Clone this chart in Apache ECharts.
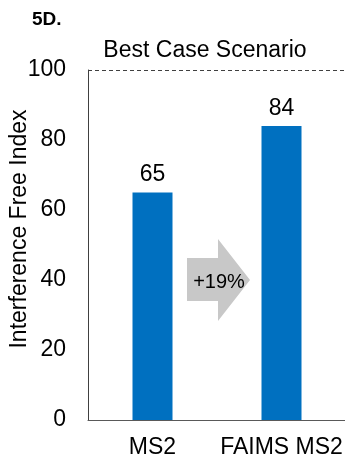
<!DOCTYPE html>
<html>
<head>
<meta charset="utf-8">
<script src="https://cdn.jsdelivr.net/npm/echarts@6/dist/echarts.min.js"></script>
<style>html,body{margin:0;padding:0;background:#fff}#c{width:345px;height:465px}</style>
</head>
<body>
<div id="c"></div>
<script>
var categories = ['MS2', 'FAIMS MS2'];
var values = [65, 84];
var yTicks = [0, 20, 40, 60, 80, 100];
var arrowLabel = '+19%';
var arrowLevel = 40;
var panelLabel = '5D.';
var chartTitle = 'Best Case Scenario';
var yName = 'Interference Free Index';

var FONT = 'Liberation Sans, Arial, sans-serif';
var chart = echarts.init(document.getElementById('c'), null, {renderer: 'canvas'});
chart.setOption({
  animation: false,
  textStyle: {fontFamily: FONT},
  title: [
    {text: panelLabel, left: 32, top: 10, padding: 0, textStyle: {fontSize: 19, fontWeight: 'bold', color: '#000', fontFamily: FONT}},
    {text: chartTitle, left: 200, textAlign: 'center', top: 34, textStyle: {fontSize: 23, fontWeight: 'normal', color: '#000', fontFamily: FONT}}
  ],
  grid: {left: 88, right: -1, top: 70, bottom: 45, outerBoundsMode: 'none', containLabel: false},
  xAxis: {
    type: 'category',
    data: categories,
    axisLine: {show: true, lineStyle: {color: '#595959', width: 1}},
    axisTick: {show: false},
    axisLabel: {fontSize: 23, color: '#000', margin: 16, interval: 0, fontFamily: FONT}
  },
  yAxis: {
    type: 'value',
    min: yTicks[0], max: yTicks[yTicks.length - 1], interval: 20,
    name: yName,
    nameLocation: 'middle',
    nameGap: 57,
    nameMoveOverlap: false,
    nameTextStyle: {fontSize: 23, color: '#000', fontFamily: FONT, padding: [0, 0, 0, 32]},
    axisLine: {show: true, lineStyle: {color: '#404040', width: 1}},
    axisTick: {show: false},
    splitLine: {show: false},
    axisLabel: {fontSize: 23, color: '#000', margin: 22, fontFamily: FONT}
  },
  series: [
    {
      type: 'bar',
      data: values,
      barWidth: 40,
      itemStyle: {color: '#0070C0'},
      label: {show: true, position: 'top', distance: 6, fontSize: 23, color: '#000', fontFamily: FONT},
      markLine: {
        silent: true,
        symbol: ['none', 'none'],
        label: {show: false},
        lineStyle: {type: [4, 3], color: '#404040', width: 1},
        data: [{yAxis: yTicks[yTicks.length - 1]}]
      }
    },
    {
      type: 'custom',
      data: [[0, arrowLevel]],
      z: 5,
      renderItem: function (params, api) {
        var p0 = api.coord([0, api.value(1)]);
        var p1 = api.coord([1, api.value(1)]);
        var cx = (p0[0] + p1[0]) / 2;
        var cy = p0[1];
        var pts = [
          [cx - 30, cy - 22], [cx + 1, cy - 22], [cx + 1, cy - 41], [cx + 33, cy],
          [cx + 1, cy + 41], [cx + 1, cy + 21], [cx - 30, cy + 21]
        ];
        return {
          type: 'group',
          children: [
            {type: 'polygon', shape: {points: pts}, style: {fill: '#C8C8C8'}},
            {type: 'text', style: {text: arrowLabel, x: cx + 2, y: cy + 2, align: 'center', verticalAlign: 'middle', fontSize: 20, fill: '#000', fontFamily: FONT}}
          ]
        };
      }
    }
  ]
});
</script>
</body>
</html>
